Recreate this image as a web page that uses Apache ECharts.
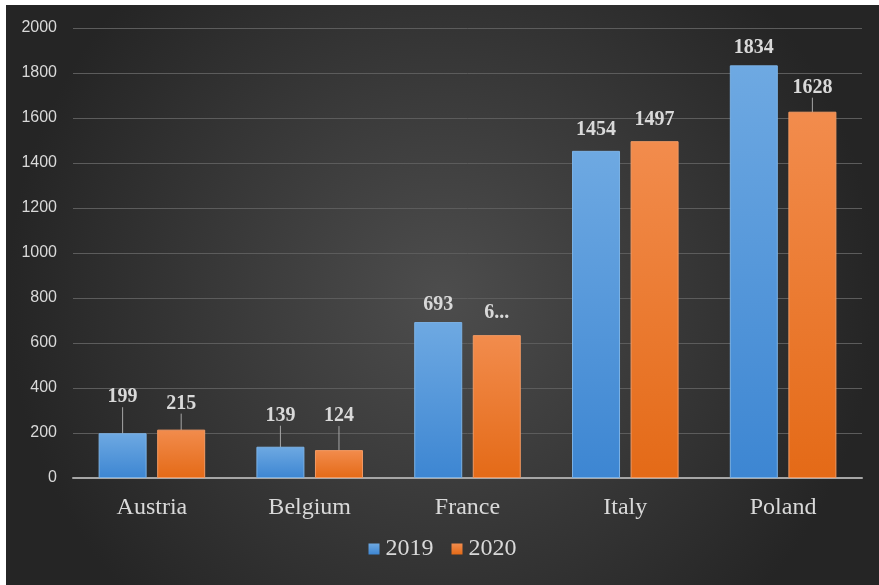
<!DOCTYPE html>
<html>
<head>
<meta charset="utf-8">
<style>
  html, body { margin: 0; padding: 0; background: #ffffff; }
  #chart { position: absolute; left: 6px; top: 5px; width: 873px; height: 580px; }
</style>
<script src="https://cdn.jsdelivr.net/npm/echarts@6/dist/echarts.min.js"></script>
</head>
<body>
<div id="chart"></div>
<script>
// Countries and yearly values
const categories = ['Austria', 'Belgium', 'France', 'Italy', 'Poland'];
const years = ['2019', '2020'];
const values2019 = [199, 139, 693, 1454, 1834];
const values2020 = [215, 124, 635, 1497, 1628];

// Extra lift of each value label above its bar (px), per series
const lift2019 = [21, 16, 2, 6, 3];
const lift2020 = [11, 19, 7, 6, 9];
// Labels that sit right on their bar and get no leader line
const noLeader = { 2019: [2, 3, 4], 2020: [2, 3] };

const textColor = '#d9d9d9';

function gradient(top, bottom) {
  return new echarts.graphic.LinearGradient(0, 0, 0, 1, [
    { offset: 0, color: top },
    { offset: 1, color: bottom }
  ]);
}

function buildData(values, year) {
  return values.map(function (v, i) {
    const item = { value: v };
    if (noLeader[year].indexOf(i) >= 0) item.labelLine = { show: false };
    // The 2020 France label is too wide for its slot and is cut short
    if (year === '2020' && i === 2) {
      item.label = { width: 27, overflow: 'truncate', ellipsis: '...' };
    }
    return item;
  });
}

function labelLayoutFor(lifts) {
  return function (params) {
    return { dy: -lifts[params.dataIndex] };
  };
}

const labelStyle = {
  show: true,
  position: 'top',
  distance: 5,
  color: textColor,
  fontFamily: '"Liberation Serif", "Times New Roman", serif',
  fontWeight: 'bold',
  fontSize: 20
};

const chart = echarts.init(document.getElementById('chart'));
chart.setOption({
  animation: false,
  backgroundColor: new echarts.graphic.RadialGradient(0.5, 0.5, 0.75, [
    { offset: 0, color: '#4d4d4d' },
    { offset: 1, color: '#252525' }
  ]),
  grid: { left: 67, right: 17, top: 23, bottom: 107, containLabel: false },
  legend: {
    data: years,
    bottom: 19,
    left: 'center',
    itemWidth: 11,
    itemHeight: 11,
    itemGap: 18,
    icon: 'rect',
    itemStyle: { borderWidth: 0 },
    textStyle: {
      color: textColor,
      fontFamily: '"Liberation Serif", "Times New Roman", serif',
      fontSize: 24,
      padding: [0, 0, 0, 1]
    }
  },
  xAxis: {
    type: 'category',
    data: categories,
    axisLine: { lineStyle: { color: '#a6a6a6', width: 2 } },
    axisTick: { show: false },
    axisLabel: {
      color: textColor,
      fontFamily: '"Liberation Serif", "Times New Roman", serif',
      fontSize: 24,
      margin: 18
    }
  },
  yAxis: {
    type: 'value',
    min: 0,
    max: 2000,
    interval: 200,
    axisLine: { show: false },
    axisTick: { show: false },
    splitLine: { lineStyle: { color: '#5c5c5c', width: 1 } },
    axisLabel: {
      color: textColor,
      fontFamily: '"Liberation Sans", Arial, sans-serif',
      fontSize: 16,
      margin: 16,
      formatter: function (v) { return String(v); }
    }
  },
  series: [
    {
      name: years[0],
      type: 'bar',
      data: buildData(values2019, '2019'),
      barWidth: 48,
      barGap: '22%',
      itemStyle: {
        color: gradient('#6ea9e2', '#3d86d2'),
        borderColor: '#7bb2e6',
        borderWidth: 1
      },
      label: labelStyle,
      labelLine: { show: true, lineStyle: { color: '#a6a6a6', width: 1 } },
      labelLayout: labelLayoutFor(lift2019)
    },
    {
      name: years[1],
      type: 'bar',
      data: buildData(values2020, '2020'),
      barWidth: 48,
      barGap: '22%',
      itemStyle: {
        color: gradient('#f28c4d', '#e46a17'),
        borderColor: '#f39a63',
        borderWidth: 1
      },
      label: labelStyle,
      labelLine: { show: true, lineStyle: { color: '#a6a6a6', width: 1 } },
      labelLayout: labelLayoutFor(lift2020)
    }
  ]
});
</script>
</body>
</html>
